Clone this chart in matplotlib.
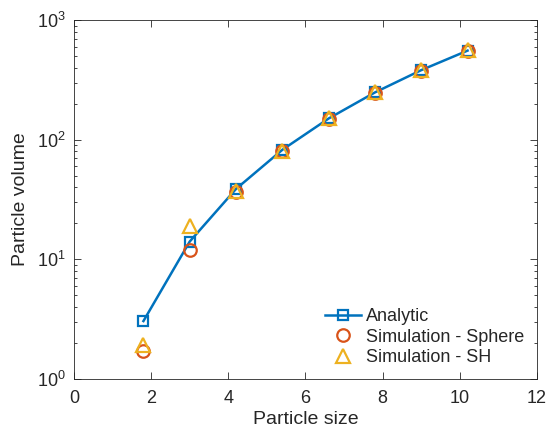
import matplotlib.pyplot as plt

# particle sizes and volumes
size = [1.8, 3.0, 4.2, 5.4, 6.6, 7.8, 9.0, 10.2]
vol_analytic = [3.05, 14.1, 38.8, 82.4, 150.5, 248.5, 381.7, 555.7]
vol_sphere = [1.72, 12.0, 36.5, 80.0, 148.0, 246.0, 378.0, 551.0]
vol_sh = [1.92, 19.0, 37.5, 80.5, 151.0, 251.0, 382.0, 558.0]

blue = "#0072BD"
orange = "#D95319"
yellow = "#EDB120"
dark = "#262626"

plt.rcParams["font.family"] = ["Liberation Sans", "DejaVu Sans"]

fig = plt.figure(figsize=(5.46, 4.34), dpi=100)
ax = fig.add_axes([0.1355, 0.1267, 0.848, 0.827])

ax.plot(size, vol_analytic, "-s", color=blue, lw=1.8, ms=6.5,
        mfc="none", mew=1.6, label="Analytic")
ax.plot(size, vol_sphere, "o", color=orange, ms=9,
        mfc="none", mew=1.6, label="Simulation - Sphere")
ax.plot(size, vol_sh, "^", color=yellow, ms=10.5,
        mfc="none", mew=1.6, label="Simulation - SH")

ax.set_yscale("log")
ax.set_xlim(0, 12)
ax.set_ylim(1, 1000)
ax.set_xticks(range(0, 13, 2))

ax.set_xlabel("Particle size", fontsize=14, color=dark, labelpad=3)
ax.set_ylabel("Particle volume", fontsize=14, color=dark, labelpad=6)

for s in ax.spines.values():
    s.set_color(dark)
    s.set_linewidth(0.6)
ax.tick_params(which="both", direction="in", top=True, right=True,
               colors=dark, labelsize=13, width=0.6)
ax.tick_params(which="major", length=5)
ax.tick_params(which="minor", length=2.5)
ax.tick_params(axis="x", which="major", pad=8)
ax.tick_params(axis="y", which="major", pad=6)

leg = ax.legend(loc="lower right", frameon=False, fontsize=13,
                handlelength=2.0, handletextpad=0.3,
                borderaxespad=0.3, labelspacing=0.2)
for t in leg.get_texts():
    t.set_color(dark)

fig.savefig("out.png", dpi=100)
